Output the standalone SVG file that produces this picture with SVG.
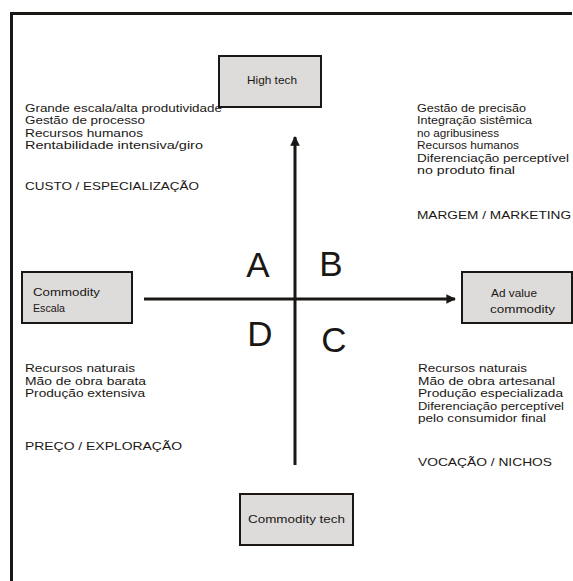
<svg xmlns="http://www.w3.org/2000/svg" width="573" height="581" viewBox="0 0 573 581">
<style>
.t{font-family:"Liberation Sans",Arial,sans-serif;font-size:11px;fill:#1a1714}
.q{font-family:"Liberation Sans",Arial,sans-serif;font-size:35px;fill:#1a1714}
.box{fill:#dddcdb;stroke:#1a1714;stroke-width:2}
.ax{stroke:#1a1714;stroke-width:3;fill:none}
</style>
<defs>
<marker id="ah" viewBox="0 0 10 10" refX="9" refY="5" markerWidth="3.2" markerHeight="3.2" orient="auto" markerUnits="strokeWidth">
<path d="M0,0 L10,5 L0,10 z" fill="#1a1714"/>
</marker>
</defs>
<rect width="573" height="581" fill="#ffffff"/>
<path d="M11.5,581 V13.5 H572" class="ax"/>
<g id="connectors">
<line x1="144" y1="299" x2="455" y2="299" class="ax" marker-end="url(#ah)"/>
<line x1="295" y1="465" x2="295" y2="137" class="ax" marker-end="url(#ah)"/>
</g>
<g id="node-hightech">
<rect x="219" y="56" width="102" height="51" class="box"/>
<text x="247" y="84" class="t" textLength="50" lengthAdjust="spacingAndGlyphs">High tech</text>
</g>
<g id="node-commodity-escala">
<rect x="22" y="272" width="110" height="51" class="box"/>
<text x="33" y="296" class="t" textLength="67" lengthAdjust="spacingAndGlyphs">Commodity</text>
<text x="33" y="312" class="t" textLength="32" lengthAdjust="spacingAndGlyphs">Escala</text>
</g>
<g id="node-ad-value">
<rect x="462" y="272" width="110" height="51" class="box"/>
<text x="491" y="297" class="t" textLength="46" lengthAdjust="spacingAndGlyphs">Ad value</text>
<text x="490" y="313" class="t" textLength="65" lengthAdjust="spacingAndGlyphs">commodity</text>
</g>
<g id="node-commodity-tech">
<rect x="240" y="494" width="113" height="51" class="box"/>
<text x="248" y="523" class="t" textLength="97" lengthAdjust="spacingAndGlyphs">Commodity tech</text>
</g>
<g id="quadrants">
<text x="258" y="277" class="q" text-anchor="middle">A</text>
<text x="331" y="276" class="q" text-anchor="middle">B</text>
<text x="260" y="346" class="q" text-anchor="middle">D</text>
<text x="334" y="352" class="q" text-anchor="middle">C</text>
</g>
<g id="text-top-left">
<text x="25" y="112" class="t" textLength="197" lengthAdjust="spacingAndGlyphs">Grande escala/alta produtividade</text>
<text x="25" y="124" class="t" textLength="120" lengthAdjust="spacingAndGlyphs">Gestão de processo</text>
<text x="25" y="137" class="t" textLength="118" lengthAdjust="spacingAndGlyphs">Recursos humanos</text>
<text x="25" y="149" class="t" textLength="178" lengthAdjust="spacingAndGlyphs">Rentabilidade intensiva/giro</text>
<text x="25" y="190" class="t" textLength="174" lengthAdjust="spacingAndGlyphs">CUSTO / ESPECIALIZAÇÃO</text>
</g>
<g id="text-top-right">
<text x="417" y="112" class="t" textLength="109" lengthAdjust="spacingAndGlyphs">Gestão de precisão</text>
<text x="417" y="124" class="t" textLength="115" lengthAdjust="spacingAndGlyphs">Integração sistêmica</text>
<text x="417" y="137" class="t" textLength="82" lengthAdjust="spacingAndGlyphs">no agribusiness</text>
<text x="417" y="149" class="t" textLength="102" lengthAdjust="spacingAndGlyphs">Recursos humanos</text>
<text x="417" y="162" class="t" textLength="152" lengthAdjust="spacingAndGlyphs">Diferenciação perceptível</text>
<text x="417" y="174" class="t" textLength="98" lengthAdjust="spacingAndGlyphs">no produto final</text>
<text x="417" y="219" class="t" textLength="154" lengthAdjust="spacingAndGlyphs">MARGEM / MARKETING</text>
</g>
<g id="text-bottom-left">
<text x="25" y="372" class="t" textLength="110" lengthAdjust="spacingAndGlyphs">Recursos naturais</text>
<text x="25" y="385" class="t" textLength="121" lengthAdjust="spacingAndGlyphs">Mão de obra barata</text>
<text x="25" y="397" class="t" textLength="120" lengthAdjust="spacingAndGlyphs">Produção extensiva</text>
<text x="25" y="450" class="t" textLength="157" lengthAdjust="spacingAndGlyphs">PREÇO / EXPLORAÇÃO</text>
</g>
<g id="text-bottom-right">
<text x="418" y="372" class="t" textLength="109" lengthAdjust="spacingAndGlyphs">Recursos naturais</text>
<text x="418" y="385" class="t" textLength="137" lengthAdjust="spacingAndGlyphs">Mão de obra artesanal</text>
<text x="418" y="397" class="t" textLength="145" lengthAdjust="spacingAndGlyphs">Produção especializada</text>
<text x="418" y="410" class="t" textLength="146" lengthAdjust="spacingAndGlyphs">Diferenciação perceptível</text>
<text x="418" y="422" class="t" textLength="128" lengthAdjust="spacingAndGlyphs">pelo consumidor final</text>
<text x="418" y="466" class="t" textLength="134" lengthAdjust="spacingAndGlyphs">VOCAÇÃO / NICHOS</text>
</g>
</svg>
